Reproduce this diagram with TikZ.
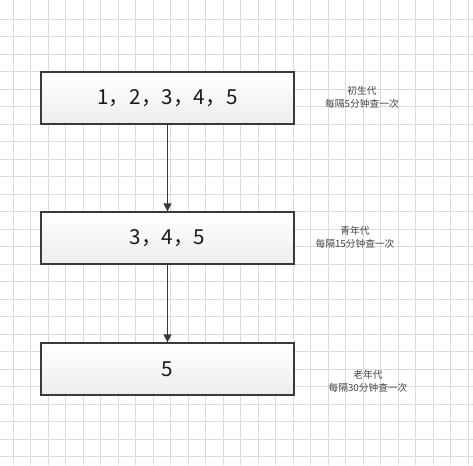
\documentclass[tikz,border=0pt]{standalone}
\usepackage{fontspec}
\setmainfont{Noto Sans CJK SC}
\usetikzlibrary{arrows.meta}
\definecolor{gridc}{HTML}{DADADA}
\definecolor{boxline}{HTML}{3A3A3A}
\definecolor{txt}{HTML}{1A1A1A}
\definecolor{lbl}{HTML}{444444}
\tikzset{
  gridline/.style={draw=gridc, line width=0.75pt},
  genbox/.style={draw=boxline, line width=1pt, top color=white, bottom color=black!7,
    minimum width=189.75pt, minimum height=39pt, inner sep=0pt,
    font=\fontsize{15.5pt}{17pt}\selectfont, text=txt},
  genlabel/.style={align=center, font=\fontsize{7.3pt}{10pt}\selectfont, text=lbl, inner sep=0pt},
  flow/.style={draw=boxline, line width=1pt, -{Triangle[length=6pt,width=6pt]}}
}
\begin{document}
\begin{tikzpicture}[x=0.75pt,y=-0.75pt]
\useasboundingbox (0,0) rectangle (473,465);
\fill[white] (0,0) rectangle (473,465);
\foreach \i in {0,...,26} \draw[gridline] ({13.3+17.5*\i},0) -- ({13.3+17.5*\i},465);
\foreach \j in {0,...,25} \draw[gridline] (0,{19.3+17.5*\j}) -- (473,{19.3+17.5*\j});
\node[genbox] (b1) at (167.5,98) {1，2，3，4，5};
\node[genbox] (b2) at (167.5,238) {3，4，5};
\node[genbox] (b3) at (167.5,369) {5};
\draw[flow] (b1) -- (b2);
\draw[flow] (b2) -- (b3);
\node[genlabel] (l1) at (362,97.5) {初生代\\每隔5分钟查一次};
\node[genlabel] (l2) at (355,237.5) {青年代\\每隔15分钟查一次};
\node[genlabel] (l3) at (368,381) {老年代\\每隔30分钟查一次};
\end{tikzpicture}
\end{document}
